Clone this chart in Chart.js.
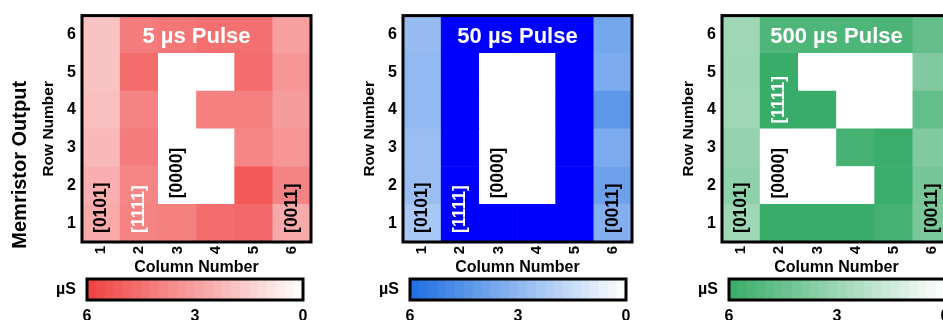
<!DOCTYPE html>
<html>
<head>
<meta charset="utf-8">
<script src="https://cdn.jsdelivr.net/npm/chart.js@4.4.1/dist/chart.umd.min.js"></script>
<style>
  html, body { margin: 0; padding: 0; background: #fff; overflow: hidden; width: 943px; height: 320px; }
  #wrap { position: relative; width: 960px; height: 320px; }
  canvas { position: absolute; }
</style>
</head>
<body>
<div id="wrap"></div>
<script>
const columns = ["1", "2", "3", "4", "5", "6"];
const rows = ["1", "2", "3", "4", "5", "6"];
const colorbarTicks = [0, 3, 6];
const bitLabels = ["[0101]", "[1111]", "[0000]", "[0011]"];

// conductance (µS), row 1 first, columns 1..6. 0 = reset cell, 7 = saturated (drawn in over colour)
const pulse5us = [
  [2.7, 3.9, 4.0, 4.6, 4.7, 2.7],
  [2.5, 3.8, 0, 0, 5.2, 3.9],
  [2.2, 4.1, 0, 0, 3.8, 3.3],
  [2.0, 3.9, 0, 4.0, 4.0, 3.1],
  [1.9, 4.6, 0, 0, 4.6, 3.3],
  [1.9, 4.1, 4.3, 4.5, 4.5, 3.0],
];
const pulse50us = [
  [2.3, 7, 7, 7, 7, 3.3],
  [2.7, 7, 0, 0, 7, 3.9],
  [2.7, 7, 0, 0, 7, 3.5],
  [2.9, 7, 0, 0, 7, 4.3],
  [2.9, 7, 0, 0, 7, 3.5],
  [2.8, 7, 7, 7, 7, 3.7],
];
const pulse500us = [
  [2.9, 6.0, 6.0, 6.0, 5.6, 4.0],
  [3.4, 0, 0, 0, 5.9, 4.1],
  [3.25, 0, 0, 5.6, 5.9, 3.8],
  [2.9, 6.0, 6.0, 0, 0, 4.7],
  [3.0, 6.0, 0, 0, 0, 3.8],
  [2.9, 5.3, 5.3, 5.3, 5.4, 4.7],
];

// where each bit label starts: column index, row value
const labelSpots = [
  [{ col: 0, y: 0.24 }, { col: 1, y: 0.24 }, { col: 2, y: 1.16 }, { col: 5, y: 0.24 }],
  [{ col: 0, y: 0.24 }, { col: 1, y: 0.24 }, { col: 2, y: 1.16 }, { col: 5, y: 0.24 }],
  [{ col: 0, y: 0.24 }, { col: 1, y: 3.14 }, { col: 1, y: 1.15 }, { col: 5, y: 0.24 }],
];
const labelColors = ["#000", "#fff", "#000", "#000"];

const panels = [
  { title: "5 µs Pulse", values: pulse5us, hi: [240, 64, 64], over: "#f04040", left: 0, barLeft: 0 },
  { title: "50 µs Pulse", values: pulse50us, hi: [30, 110, 225], over: "#0000ff", left: 321, barLeft: 323 },
  { title: "500 µs Pulse", values: pulse500us, hi: [56, 172, 104], over: "#38ac68", left: 640, barLeft: 642 },
];

Chart.defaults.font.family = "'Liberation Sans', Arial, sans-serif";
Chart.defaults.color = "#000";

const wrap = document.getElementById("wrap");

function cellColor(v, hi, over) {
  if (v > 6) return over;
  const t = Math.max(0, v) / 6;
  const c = hi.map((h) => Math.round(255 + (h - 255) * t));
  return `rgb(${c[0]}, ${c[1]}, ${c[2]})`;
}

function addCanvas(left, top, w, h) {
  const canvas = document.createElement("canvas");
  canvas.width = w;
  canvas.height = h;
  canvas.style.left = left + "px";
  canvas.style.top = top + "px";
  canvas.style.width = w + "px";
  canvas.style.height = h + "px";
  wrap.appendChild(canvas);
  return canvas;
}

function heatmap(p, index) {
  const canvas = addCanvas(p.left, 0, 320, 285);

  const datasets = rows.map((r, ri) => ({
    label: "Row " + r,
    data: columns.map(() => [ri, ri + 1]),
    backgroundColor: p.values[ri].map((v) => cellColor(v, p.hi, p.over)),
    borderWidth: 0,
    grouped: false,
    barPercentage: 1,
    categoryPercentage: 1,
  }));

  const overlay = {
    id: "overlay",
    afterDatasetsDraw(chart) {
      const { ctx, chartArea: a, scales } = chart;
      ctx.save();

      // bit labels, rotated to read bottom to top
      ctx.font = "bold 17.5px 'Liberation Sans', Arial, sans-serif";
      ctx.textAlign = "left";
      ctx.textBaseline = "middle";
      labelSpots[index].forEach((spot, k) => {
        const x = scales.x.getPixelForValue(spot.col);
        const y = scales.y.getPixelForValue(spot.y);
        ctx.save();
        ctx.translate(x, y);
        ctx.rotate(-Math.PI / 2);
        ctx.fillStyle = labelColors[k];
        ctx.fillText(bitLabels[k], 0, 0);
        ctx.restore();
      });

      // pulse title inside the map
      ctx.font = "bold 22px 'Liberation Sans', Arial, sans-serif";
      ctx.textAlign = "center";
      ctx.fillStyle = "#fff";
      ctx.fillText(p.title, (a.left + a.right) / 2, a.top + 21);

      ctx.strokeStyle = "#000";
      ctx.lineWidth = 3;
      ctx.strokeRect(a.left, a.top, a.right - a.left, a.bottom - a.top);

      if (index === 0) {
        ctx.save();
        ctx.translate(20.5, (a.top + a.bottom) / 2 + 36);
        ctx.rotate(-Math.PI / 2);
        ctx.font = "bold 20px 'Liberation Sans', Arial, sans-serif";
        ctx.fillStyle = "#000";
        ctx.fillText("Memristor Output", 0, 0);
        ctx.restore();
      }
      ctx.restore();
    },
  };

  new Chart(canvas, {
    type: "bar",
    data: { labels: columns, datasets },
    plugins: [overlay],
    options: {
      responsive: false,
      animation: false,
      layout: { padding: { top: 13, right: 9, left: 0, bottom: 0 } },
      plugins: { legend: { display: false }, tooltip: { enabled: false } },
      scales: {
        x: {
          grid: { display: false, drawTicks: false },
          border: { display: false },
          ticks: { font: { size: 15, weight: "bold" }, minRotation: 90, maxRotation: 90, padding: 4 },
          title: { display: true, text: "Column Number", font: { size: 16, weight: "bold" }, padding: { top: 0, bottom: 8 } },
          afterFit: (s) => { s.height = 43; },
        },
        y: {
          min: 0,
          max: 6,
          grid: { display: false, drawTicks: false },
          border: { display: false },
          afterBuildTicks: (s) => { s.ticks = rows.map((r, k) => ({ value: k + 0.5 })); },
          ticks: { autoSkip: false, callback: (v, k) => rows[k], font: { size: 16, weight: "bold" }, padding: 6 },
          title: { display: true, text: "Row Number", font: { size: 15.5, weight: "bold" }, padding: { top: 39, bottom: 0 } },
          afterFit: (s) => { s.width = 82; },
        },
      },
    },
  });
}

function colorbar(p) {
  const canvas = addCanvas(p.barLeft + 40, 270, 280, 50);
  const steps = 24;
  const bands = Array.from({ length: steps }, (_, k) => [k * 6 / steps, (k + 1) * 6 / steps]);

  const frame = {
    id: "frame",
    afterDatasetsDraw(chart) {
      const { ctx, chartArea: a } = chart;
      ctx.save();
      ctx.strokeStyle = "#000";
      ctx.lineWidth = 3;
      ctx.strokeRect(a.left, a.top, a.right - a.left, a.bottom - a.top);
      ctx.font = "bold 16px 'Liberation Sans', Arial, sans-serif";
      ctx.fillStyle = "#000";
      ctx.textAlign = "right";
      ctx.textBaseline = "middle";
      ctx.fillText("µS", a.left - 11, (a.top + a.bottom) / 2);
      ctx.restore();
    },
  };

  new Chart(canvas, {
    type: "bar",
    data: {
      labels: ["µS"],
      datasets: bands.map((b) => ({
        data: [b],
        backgroundColor: cellColor((b[0] + b[1]) / 2, p.hi, p.over),
        borderWidth: 0,
        grouped: false,
        barPercentage: 1,
        categoryPercentage: 1,
      })),
    },
    plugins: [frame],
    options: {
      indexAxis: "y",
      responsive: false,
      animation: false,
      layout: { padding: { top: 9, right: 17, left: 47, bottom: 0 } },
      plugins: { legend: { display: false }, tooltip: { enabled: false } },
      scales: {
        x: {
          type: "linear",
          reverse: true,
          min: 0,
          max: 6,
          grid: { display: false, drawTicks: false },
          border: { display: false },
          afterBuildTicks: (s) => { s.ticks = colorbarTicks.map((v) => ({ value: v })); },
          ticks: { font: { size: 16, weight: "bold" }, padding: 7, callback: (v) => String(v) },
          afterFit: (s) => { s.height = 20; },
        },
        y: { display: false },
      },
    },
  });
}

panels.forEach((p, i) => {
  heatmap(p, i);
  colorbar(p);
});
</script>
</body>
</html>
